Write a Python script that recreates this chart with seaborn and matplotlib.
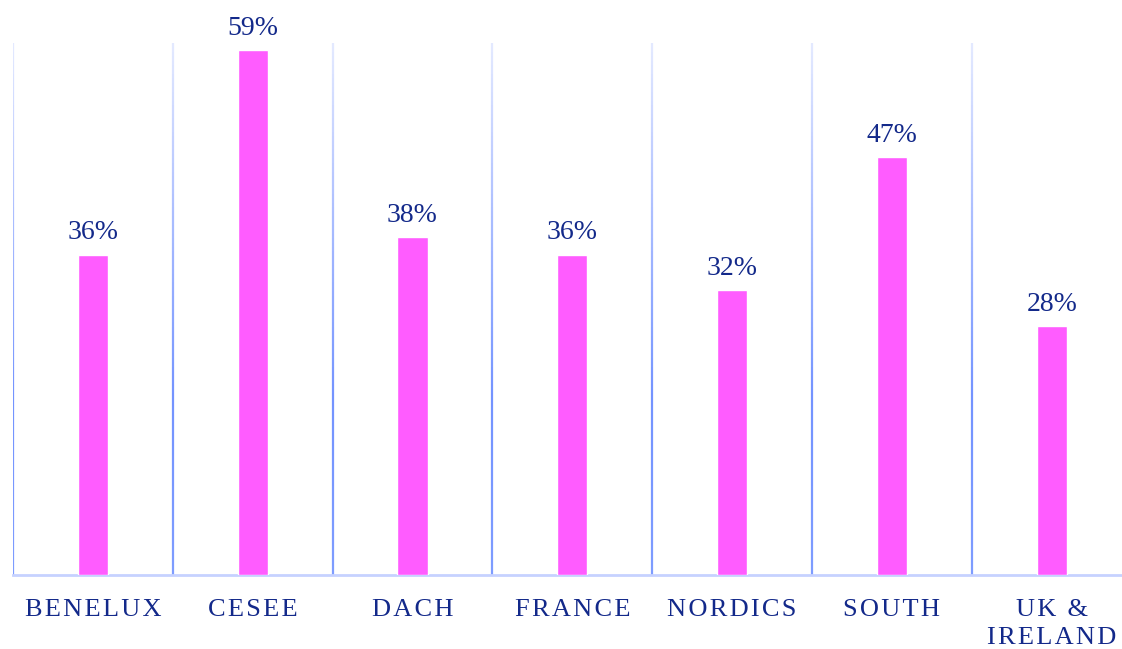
import numpy as np
import pandas as pd
import matplotlib
matplotlib.use("Agg")
import matplotlib.pyplot as plt
from matplotlib.colors import LinearSegmentedColormap
import seaborn as sns

# -----------------------------
# Data
# -----------------------------
regions = ["BENELUX", "CESEE", "DACH", "FRANCE", "NORDICS", "SOUTH", "UK &\nIRELAND"]
shares = [36, 59, 38, 36, 32, 47, 28]

df = pd.DataFrame({"region": regions, "share": shares})

# -----------------------------
# Plot Settings
# -----------------------------
sns.set_style("white")
plt.rcParams["font.family"] = ["Liberation Serif", "DejaVu Serif"]

navy = "#13298a"
pink = "#ff5cff"
gap = "\u200a"

fig = plt.figure(figsize=(11.22, 6.49), dpi=100)
ax = fig.add_axes([13 / 1122, 74 / 649, 1109 / 1122, 532 / 649])

sns.barplot(data=df, x="region", y="share", color=pink, width=0.19,
            saturation=1, ax=ax, zorder=3)

ax.set_xlim(-0.5, 6.44)
ax.set_ylim(0, 59.8)

# gradient separators between categories
grad = LinearSegmentedColormap.from_list(
    "sep", ["#7e9cff", "#7393ff", "#a9bcff", "#e3e9ff"])
ys = np.linspace(0, 59.8, 121)
for xb in np.arange(-0.5, len(regions), 1.0):
    ax.vlines([xb] * (len(ys) - 1), ys[:-1], ys[1:],
              colors=grad(np.linspace(0, 1, len(ys) - 1)),
              linewidth=1.6, zorder=1)

# value labels
for i, v in enumerate(shares):
    ax.annotate(f"{v}%", (i, v), xytext=(0, 11), textcoords="offset points",
                ha="center", va="baseline", fontsize=20, color=navy)


# category labels with letter spacing
def spaced(label):
    return "\n".join(gap.join(line) for line in label.split("\n"))


ax.set_xticks(range(len(regions)))
ax.set_xticklabels([spaced(r) for r in regions],
                   fontsize=19, color=navy, linespacing=1.35)
ax.tick_params(axis="x", length=0, pad=17)
ax.set_yticks([])
ax.set_xlabel("")
ax.set_ylabel("")

for s in ["top", "right", "left"]:
    ax.spines[s].set_visible(False)
ax.spines["bottom"].set_color("#c6d2ff")
ax.spines["bottom"].set_linewidth(2)

fig.savefig("out.png", dpi=100)
